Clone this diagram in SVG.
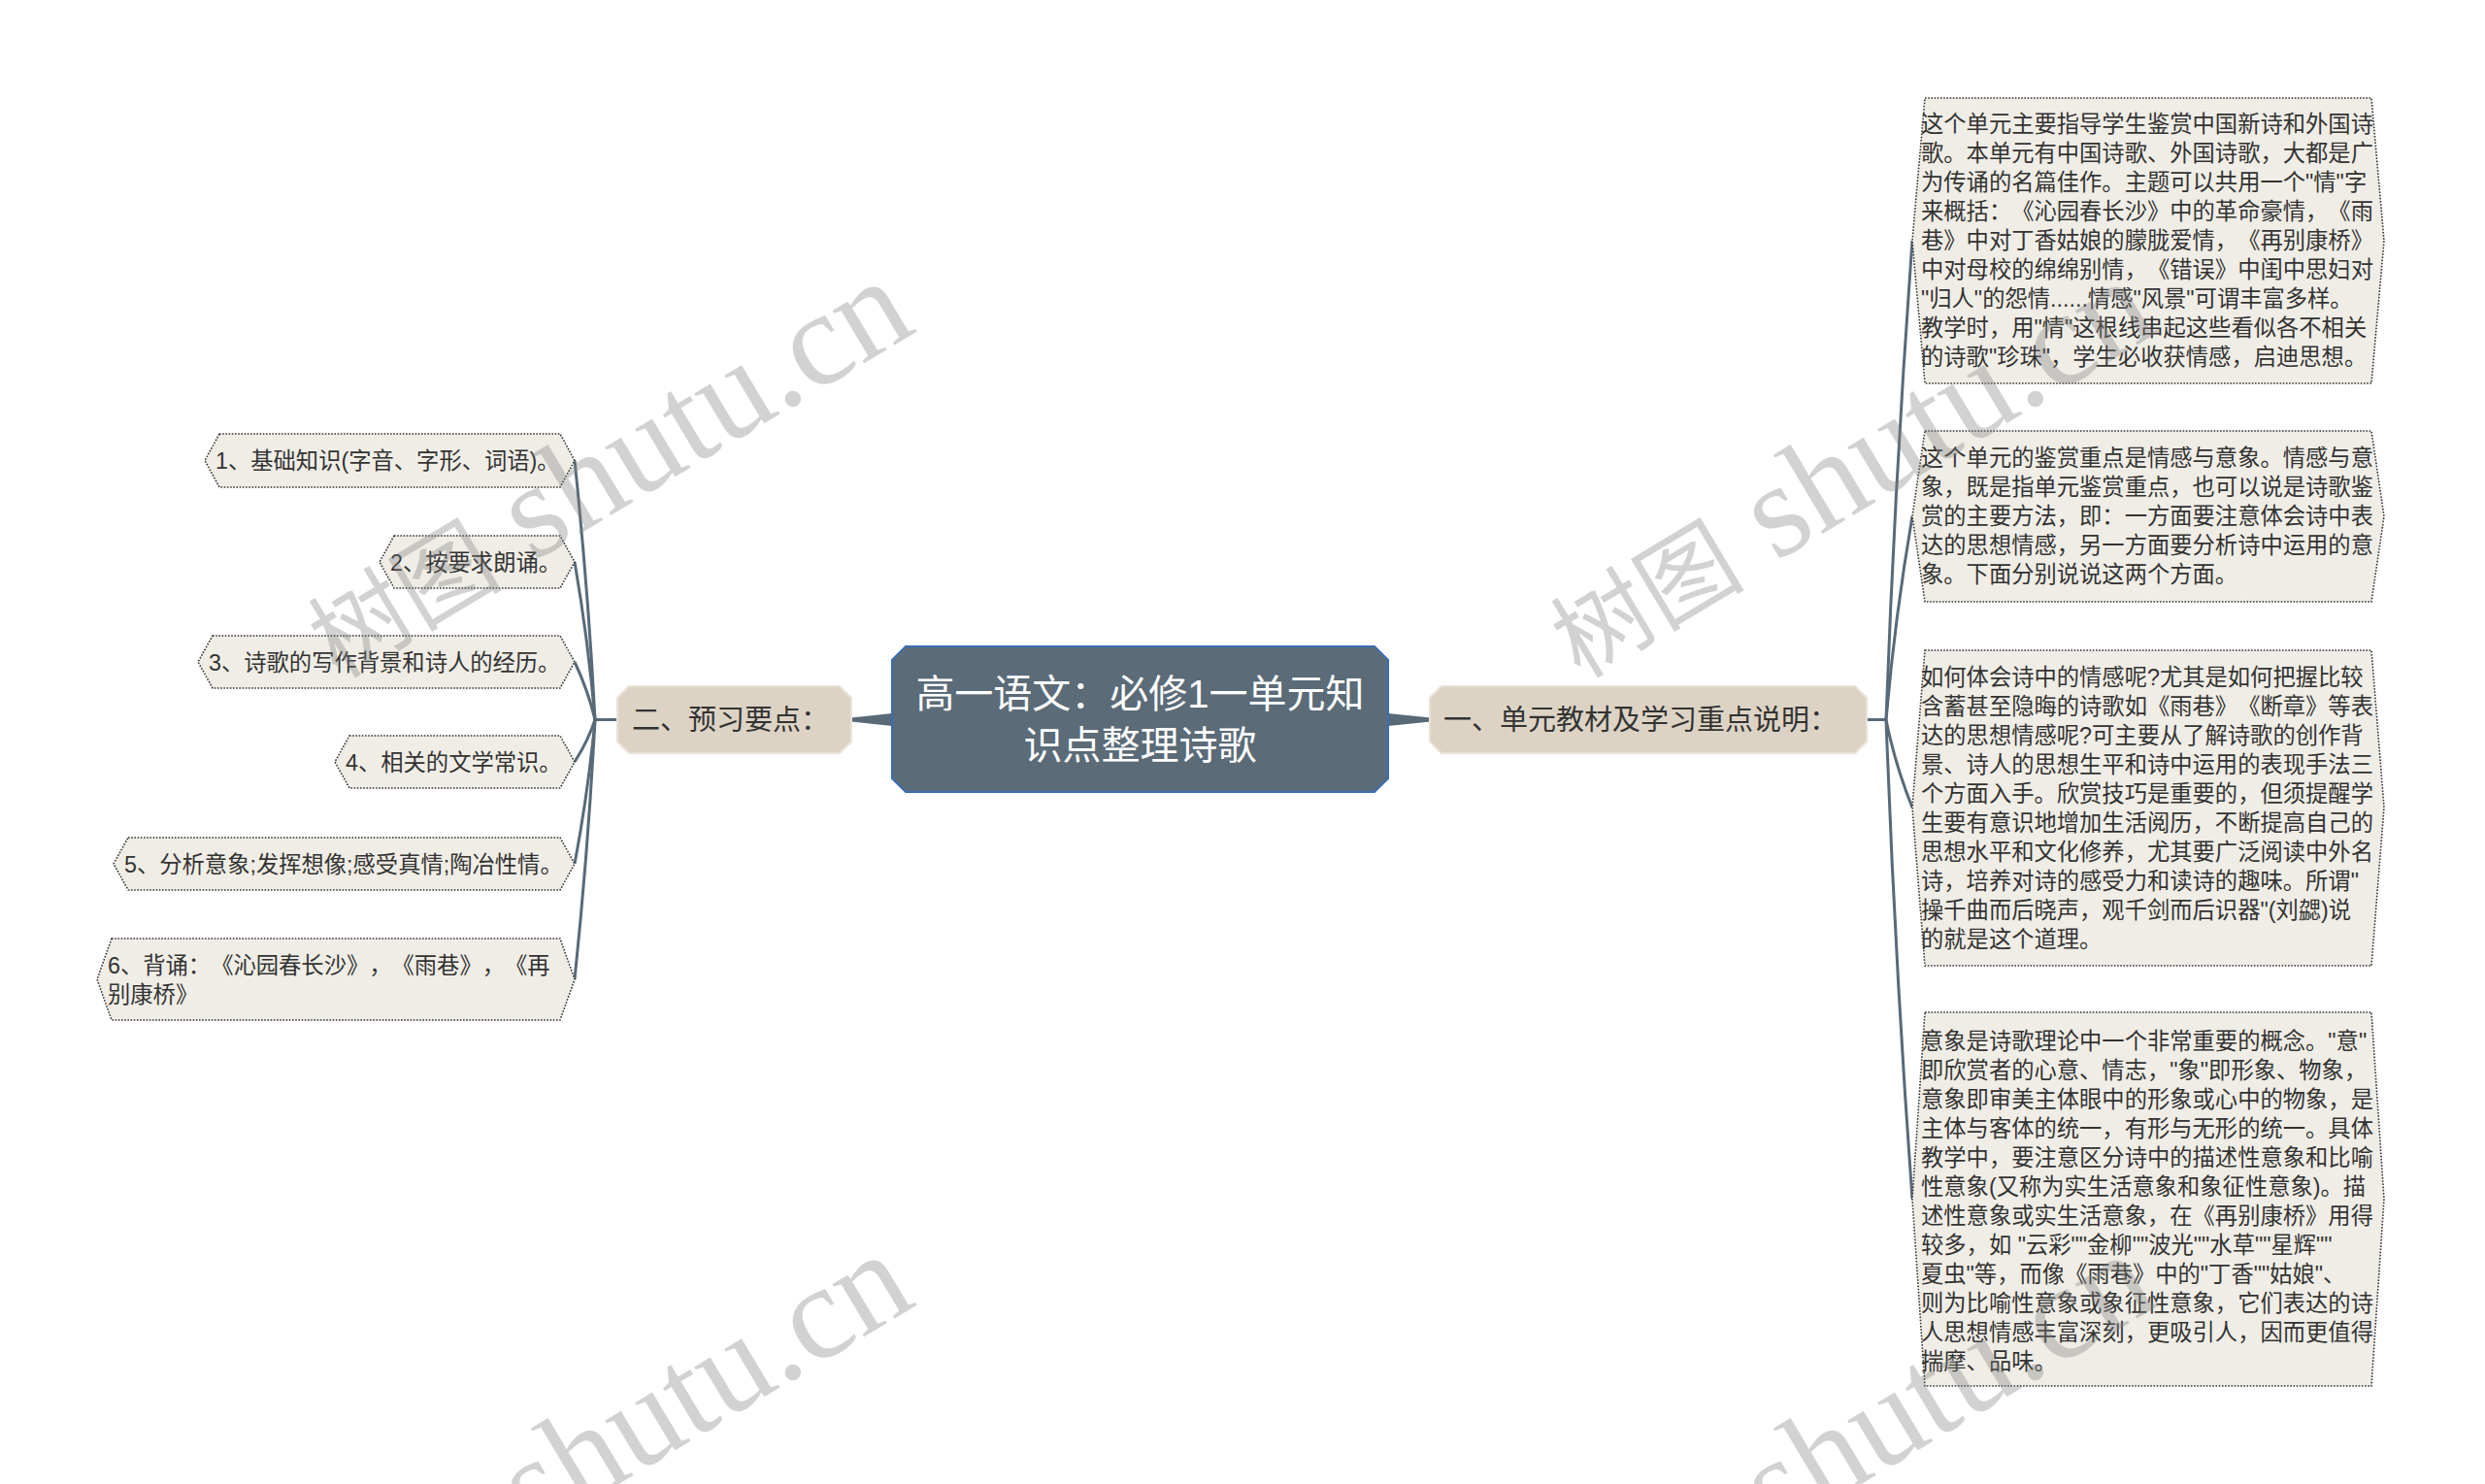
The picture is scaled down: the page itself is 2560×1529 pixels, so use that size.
<svg xmlns="http://www.w3.org/2000/svg" width="2560" height="1529" viewBox="0 0 2560 1529">
<style>
text{font-family:"Liberation Sans","Noto Sans CJK SC",sans-serif;fill:#333;text-spacing-trim:space-all}
.leaf{fill:#f0ede6;stroke:#333;stroke-width:1.6;stroke-dasharray:1.6 1.6}
.branch{fill:#ddd3c5;stroke:#e8e2d8;stroke-width:2}
.root{fill:#5b6b78;stroke:#3b6db3;stroke-width:2}
.t23{font-size:23.3px}
.t29{font-size:29px}
.t40{font-size:40px;fill:#fff}
.link{fill:none;stroke:#586a78;stroke-width:3}
.taper{fill:#586a78}
.wm{fill:#808080;opacity:0.35}
.wmc{font-family:"Noto Sans CJK SC",sans-serif;font-size:100px}
.wml{font-family:"Liberation Serif",serif;font-size:138px}
</style>
<rect width="2560" height="1529" fill="#fff"/>
<g id="connectors">
<polygon class="taper" points="919,735 919,748 877,743.5 877,739.5"/>
<polygon class="taper" points="1430,735 1430,748 1474,743.5 1474,739.5"/>
<path class="link" d="M636 741.5 L613 741.5"/>
<path class="link" d="M613 741.5 Q606 608 592 474.5"/>
<path class="link" d="M613 741.5 Q606 660 592 579"/>
<path class="link" d="M613 741.5 Q606 712 592 682"/>
<path class="link" d="M613 741.5 Q606 763 592 785"/>
<path class="link" d="M613 741.5 Q606 816 592 890"/>
<path class="link" d="M613 741.5 Q606 875 592 1009"/>
<path class="link" d="M1923 741.5 L1943 741.5"/>
<path class="link" d="M1943 741.5 Q1952 495 1970 248"/>
<path class="link" d="M1943 741.5 Q1952 637 1970 532"/>
<path class="link" d="M1943 741.5 Q1952 787 1970 832"/>
<path class="link" d="M1943 741.5 Q1952 988 1970 1235.5"/>
</g>
<g id="root">
<polygon class="root" points="933,666 1416,666 1430,680 1430,802 1416,816 933,816 919,802 919,680"/>
<text class="t40" x="1174.5" y="729" text-anchor="middle">高一语文：必修1一单元知</text>
<text class="t40" x="1174.5" y="782" text-anchor="middle">识点整理诗歌</text>
</g>
<g id="branch-right">
<polygon class="branch" points="1485,707 1911,707 1923,719 1923,764 1911,776 1485,776 1473,764 1473,719"/>
<text class="t29" x="1487" y="752">一、单元教材及学习重点说明：</text>
</g>
<g id="branch-left">
<polygon class="branch" points="648,707 865,707 877,719 877,764 865,776 648,776 636,764 636,719"/>
<text class="t29" x="651" y="752">二、预习要点：</text>
</g>
<g id="left-1">
<polygon class="leaf" points="226,447 577,447 592,474.5 577,502 226,502 211,474.5"/>
<text class="t23" x="222" y="483">1、基础知识(字音、字形、词语)。</text>
</g>
<g id="left-2">
<polygon class="leaf" points="406,552 577,552 592,579 577,606 406,606 391,579"/>
<text class="t23" x="402" y="587.5">2、按要求朗诵。</text>
</g>
<g id="left-3">
<polygon class="leaf" points="219,655 577,655 592,682 577,709 219,709 204,682"/>
<text class="t23" x="215" y="690.5">3、诗歌的写作背景和诗人的经历。</text>
</g>
<g id="left-4">
<polygon class="leaf" points="360,758 577,758 592,785 577,812 360,812 345,785"/>
<text class="t23" x="356" y="793.5">4、相关的文学常识。</text>
</g>
<g id="left-5">
<polygon class="leaf" points="132,863 577,863 592,890 577,917 132,917 117,890"/>
<text class="t23" x="128" y="898.5">5、分析意象;发挥想像;感受真情;陶冶性情。</text>
</g>
<g id="left-6">
<polygon class="leaf" points="115,967 577,967 592,1009 577,1051 115,1051 100,1009"/>
<text class="t23" x="111" y="1003">6、背诵：《沁园春长沙》，《雨巷》，《再</text>
<text class="t23" x="111" y="1033">别康桥》</text>
</g>
<g id="right-1">
<polygon class="leaf" points="1983,101 2443,101 2456,248 2443,395 1983,395 1970,248"/>
<text class="t23" x="1979" y="136">这个单元主要指导学生鉴赏中国新诗和外国诗</text>
<text class="t23" x="1979" y="166">歌。本单元有中国诗歌、外国诗歌，大都是广</text>
<text class="t23" x="1979" y="196">为传诵的名篇佳作。主题可以共用一个"情"字</text>
<text class="t23" x="1979" y="226">来概括：《沁园春长沙》中的革命豪情，《雨</text>
<text class="t23" x="1979" y="256">巷》中对丁香姑娘的朦胧爱情，《再别康桥》</text>
<text class="t23" x="1979" y="286">中对母校的绵绵别情，《错误》中闺中思妇对</text>
<text class="t23" x="1979" y="316">"归人"的怨情......情感"风景"可谓丰富多样。</text>
<text class="t23" x="1979" y="346">教学时，用"情"这根线串起这些看似各不相关</text>
<text class="t23" x="1979" y="376">的诗歌"珍珠"，学生必收获情感，启迪思想。</text>
</g>
<g id="right-2">
<polygon class="leaf" points="1983,444 2443,444 2456,532 2443,620 1983,620 1970,532"/>
<text class="t23" x="1979" y="480">这个单元的鉴赏重点是情感与意象。情感与意</text>
<text class="t23" x="1979" y="510">象，既是指单元鉴赏重点，也可以说是诗歌鉴</text>
<text class="t23" x="1979" y="540">赏的主要方法，即：一方面要注意体会诗中表</text>
<text class="t23" x="1979" y="570">达的思想情感，另一方面要分析诗中运用的意</text>
<text class="t23" x="1979" y="600">象。下面分别说说这两个方面。</text>
</g>
<g id="right-3">
<polygon class="leaf" points="1983,670 2443,670 2456,832 2443,995 1983,995 1970,832"/>
<text class="t23" x="1979" y="706">如何体会诗中的情感呢?尤其是如何把握比较</text>
<text class="t23" x="1979" y="736">含蓄甚至隐晦的诗歌如《雨巷》《断章》等表</text>
<text class="t23" x="1979" y="766">达的思想情感呢?可主要从了解诗歌的创作背</text>
<text class="t23" x="1979" y="796">景、诗人的思想生平和诗中运用的表现手法三</text>
<text class="t23" x="1979" y="826">个方面入手。欣赏技巧是重要的，但须提醒学</text>
<text class="t23" x="1979" y="856">生要有意识地增加生活阅历，不断提高自己的</text>
<text class="t23" x="1979" y="886">思想水平和文化修养，尤其要广泛阅读中外名</text>
<text class="t23" x="1979" y="916">诗，培养对诗的感受力和读诗的趣味。所谓"</text>
<text class="t23" x="1979" y="946">操千曲而后晓声，观千剑而后识器"(刘勰)说</text>
<text class="t23" x="1979" y="976">的就是这个道理。</text>
</g>
<g id="right-4">
<polygon class="leaf" points="1983,1043 2443,1043 2456,1235.5 2443,1428 1983,1428 1970,1235.5"/>
<text class="t23" x="1979" y="1081">意象是诗歌理论中一个非常重要的概念。"意"</text>
<text class="t23" x="1979" y="1111">即欣赏者的心意、情志，"象"即形象、物象，</text>
<text class="t23" x="1979" y="1141">意象即审美主体眼中的形象或心中的物象，是</text>
<text class="t23" x="1979" y="1171">主体与客体的统一，有形与无形的统一。具体</text>
<text class="t23" x="1979" y="1201">教学中，要注意区分诗中的描述性意象和比喻</text>
<text class="t23" x="1979" y="1231">性意象(又称为实生活意象和象征性意象)。描</text>
<text class="t23" x="1979" y="1261">述性意象或实生活意象，在《再别康桥》用得</text>
<text class="t23" x="1979" y="1291">较多，如 "云彩""金柳""波光""水草""星辉""</text>
<text class="t23" x="1979" y="1321">夏虫"等，而像《雨巷》中的"丁香""姑娘"、</text>
<text class="t23" x="1979" y="1351">则为比喻性意象或象征性意象，它们表达的诗</text>
<text class="t23" x="1979" y="1381">人思想情感丰富深刻，更吸引人，因而更值得</text>
<text class="t23" x="1979" y="1411">揣摩、品味。</text>
</g>
<g id="watermarks">
<text class="wm" x="348" y="700" transform="rotate(-31 348 700)"><tspan class="wmc">树图</tspan><tspan class="wml"> shutu.cn</tspan></text>
<text class="wm" x="1628" y="700" transform="rotate(-31 1628 700)"><tspan class="wmc">树图</tspan><tspan class="wml"> shutu.cn</tspan></text>
<text class="wm" x="348" y="1703" transform="rotate(-31 348 1703)"><tspan class="wmc">树图</tspan><tspan class="wml"> shutu.cn</tspan></text>
<text class="wm" x="1628" y="1703" transform="rotate(-31 1628 1703)"><tspan class="wmc">树图</tspan><tspan class="wml"> shutu.cn</tspan></text>
</g>
</svg>
